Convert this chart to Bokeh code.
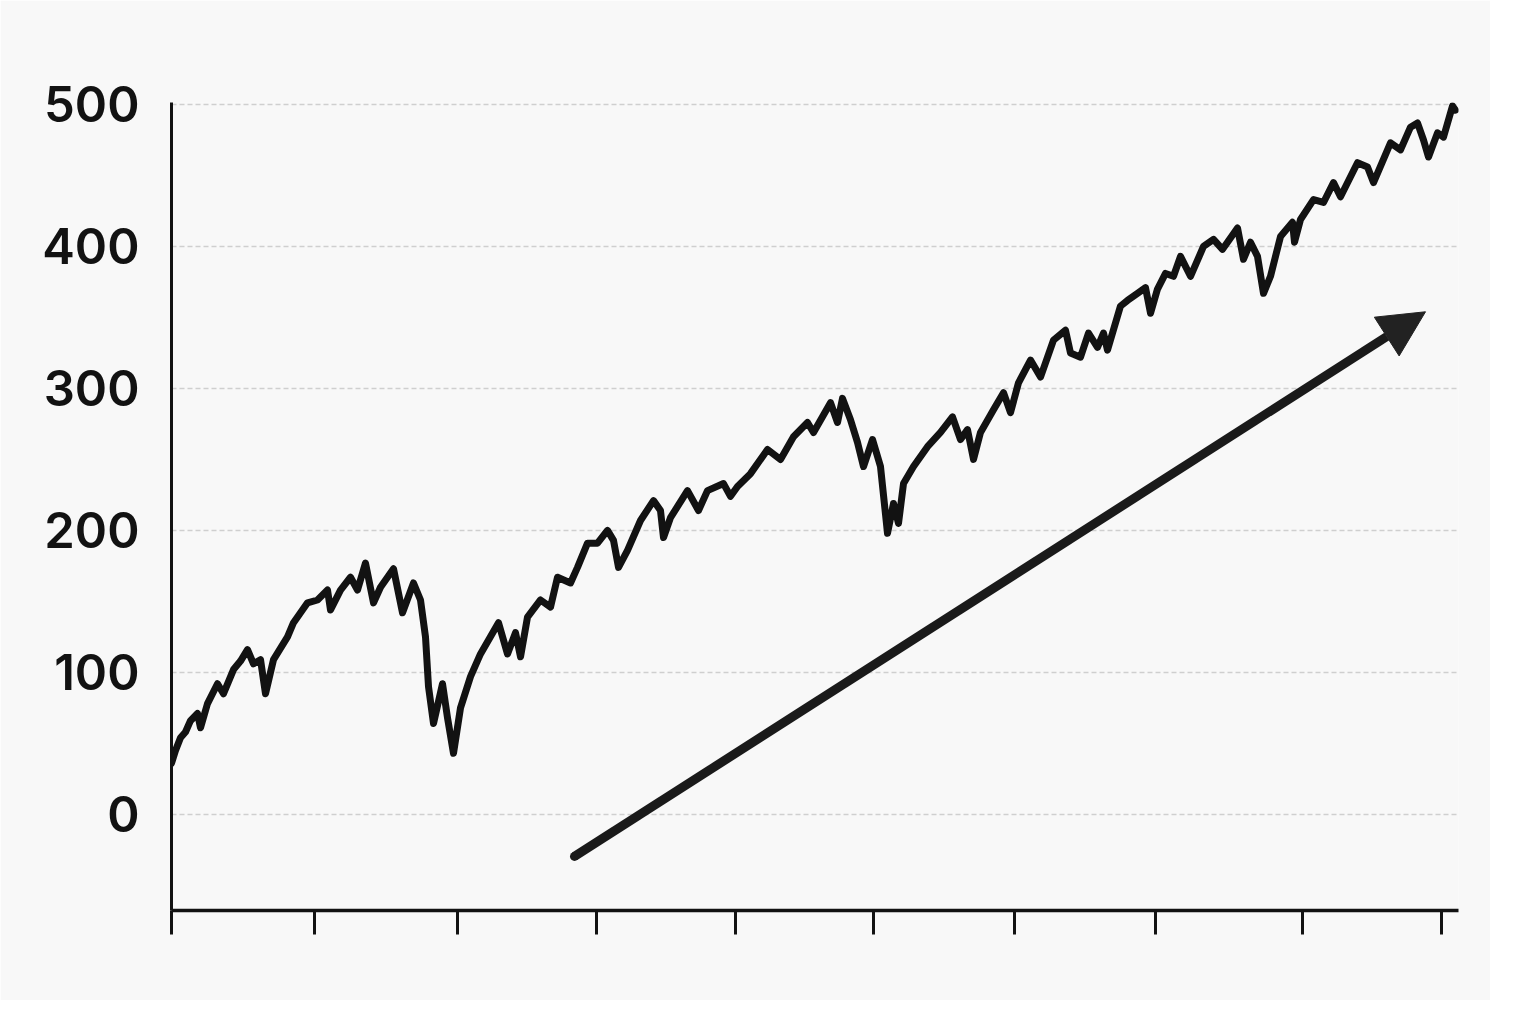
from bokeh.plotting import figure
from bokeh.models import Range1d, FixedTicker, Arrow, NormalHead
from bokeh.embed import file_html
from bokeh.resources import INLINE

# trading-day index (x) and index level (y)
day = [0, 4, 9, 14, 19, 26, 29, 36, 46, 52, 62, 69, 76, 82, 89, 94, 102, 116, 122, 136,
       146, 156, 159, 169, 179, 186, 194, 202, 209, 222, 231, 242, 249, 254, 257, 262,
       271, 276, 282, 289, 299, 309, 327, 336, 344, 349, 356, 369, 379, 386, 399, 406,
       416, 426, 436, 442, 447, 456, 469, 482, 489, 492, 499, 516, 527, 536, 552, 559,
       566, 579, 596, 609, 622, 636, 642, 659, 666, 671, 679, 686, 692, 701, 709, 716,
       722, 727, 732, 742, 756, 769, 781, 789, 796, 802, 809, 822, 832, 839, 847, 859,
       869, 882, 894, 899, 909, 917, 926, 932, 936, 949, 956, 966, 974, 979, 986, 994,
       1002, 1009, 1019, 1032, 1042, 1051, 1056, 1066, 1072, 1079, 1086, 1092, 1099,
       1109, 1121, 1123, 1129, 1142, 1152, 1162, 1169, 1186, 1196, 1202, 1219, 1229,
       1239, 1246, 1252, 1257, 1266, 1272, 1281, 1284]
level = [36, 45, 54, 58, 66, 71, 61, 78, 92, 85, 102, 108, 116, 106, 109, 85, 109, 125,
         135, 149, 151, 158, 144, 158, 167, 158, 177, 149, 160, 173, 142, 163, 151, 125,
         90, 64, 92, 68, 43, 75, 97, 113, 135, 113, 128, 111, 139, 151, 146, 167, 163,
         174, 191, 191, 200, 193, 174, 186, 207, 221, 214, 195, 209, 228, 214, 228, 233,
         224, 231, 240, 257, 250, 266, 276, 269, 290, 276, 293, 278, 262, 245, 264, 245,
         198, 219, 205, 233, 245, 259, 269, 280, 264, 271, 250, 269, 285, 297, 283, 304,
         320, 308, 334, 341, 325, 322, 339, 329, 339, 327, 358, 362, 367, 371, 353, 370,
         381, 379, 393, 379, 400, 405, 398, 403, 413, 391, 403, 393, 367, 379, 407, 417,
         403, 419, 433, 431, 445, 435, 459, 456, 445, 473, 468, 484, 487, 475, 463, 480,
         477, 499, 496]

x_ticks = [0, 143, 286, 425, 564, 702, 843, 984, 1131, 1270]
y_ticks = [0, 100, 200, 300, 400, 500]

# trend arrow (start / end in data units)
arrow_x = [403, 1254]
arrow_y = [-29.6, 354]

BG = "#f8f8f8"
INK = "#121212"

p = figure(width=1490, height=1000, output_backend="svg", toolbar_location=None,
           x_range=Range1d(0, 1287), y_range=Range1d(-67.7, 501.4),
           background_fill_color=BG, border_fill_color=BG, outline_line_color=None)
p.min_border_left = 171
p.min_border_right = 32
p.min_border_top = 102
p.min_border_bottom = 90

p.line(day, level, line_color=INK, line_width=7, line_join="round", line_cap="round")

p.add_layout(Arrow(end=NormalHead(size=46, fill_color="#222222", line_color="#222222", line_width=1),
                   x_start=arrow_x[0], y_start=arrow_y[0], x_end=arrow_x[1], y_end=arrow_y[1],
                   line_color="#1a1a1a", line_width=9, line_cap="butt"))
p.scatter(arrow_x[:1], arrow_y[:1], size=9, marker="circle", fill_color="#1a1a1a", line_color=None)

p.xgrid.grid_line_color = None
p.ygrid.ticker = FixedTicker(ticks=y_ticks)
p.ygrid.grid_line_color = "#cfcfcf"
p.ygrid.grid_line_width = 1.5
p.ygrid.grid_line_dash = "5 3"

p.yaxis.ticker = FixedTicker(ticks=y_ticks)
p.yaxis.axis_line_color = INK
p.yaxis.axis_line_width = 3
p.yaxis.major_tick_line_color = None
p.yaxis.minor_tick_line_color = None
p.yaxis.major_label_standoff = 26
p.yaxis.major_label_text_font = "'Inter SemiBold', 'Inter Medium', Inter"
p.yaxis.major_label_text_font_size = "49px"
p.yaxis.major_label_text_font_style = "normal"
p.yaxis.major_label_text_color = INK

p.xaxis.ticker = FixedTicker(ticks=x_ticks)
p.xaxis.axis_line_color = INK
p.xaxis.axis_line_width = 3.5
p.xaxis.major_tick_line_color = INK
p.xaxis.major_tick_line_width = 3
p.xaxis.major_tick_out = 24
p.xaxis.major_tick_in = 0
p.xaxis.minor_tick_line_color = None
p.xaxis.major_label_text_color = None
p.xaxis.major_label_text_font_size = "1px"

open("out.html", "w").write(file_html(p, INLINE))
